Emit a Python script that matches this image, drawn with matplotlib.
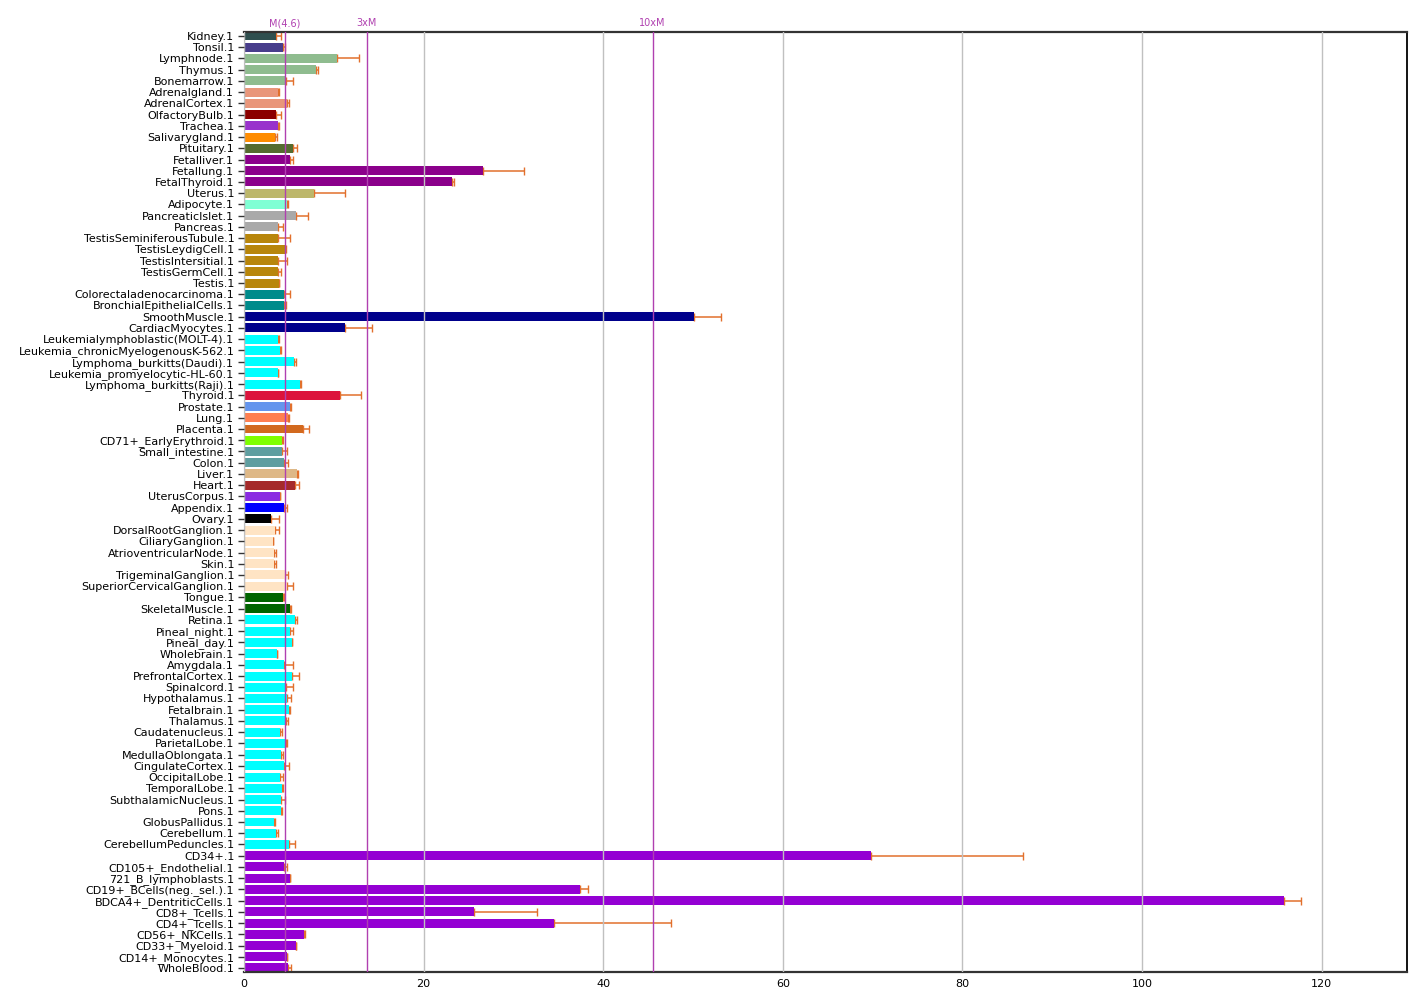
import matplotlib
matplotlib.use("Agg")
import matplotlib.pyplot as plt
import matplotlib.transforms as mtransforms
import numpy as np

tissues = [
    "Kidney.1", "Tonsil.1", "Lymphnode.1", "Thymus.1", "Bonemarrow.1",
    "Adrenalgland.1", "AdrenalCortex.1", "OlfactoryBulb.1", "Trachea.1",
    "Salivarygland.1", "Pituitary.1", "Fetalliver.1", "Fetallung.1",
    "FetalThyroid.1", "Uterus.1", "Adipocyte.1", "PancreaticIslet.1",
    "Pancreas.1", "TestisSeminiferousTubule.1", "TestisLeydigCell.1",
    "TestisIntersitial.1", "TestisGermCell.1", "Testis.1",
    "Colorectaladenocarcinoma.1", "BronchialEpithelialCells.1",
    "SmoothMuscle.1", "CardiacMyocytes.1", "Leukemialymphoblastic(MOLT-4).1",
    "Leukemia_chronicMyelogenousK-562.1", "Lymphoma_burkitts(Daudi).1",
    "Leukemia_promyelocytic-HL-60.1", "Lymphoma_burkitts(Raji).1",
    "Thyroid.1", "Prostate.1", "Lung.1", "Placenta.1", "CD71+_EarlyErythroid.1",
    "Small_intestine.1", "Colon.1", "Liver.1", "Heart.1", "UterusCorpus.1",
    "Appendix.1", "Ovary.1", "DorsalRootGanglion.1", "CiliaryGanglion.1",
    "AtrioventricularNode.1", "Skin.1", "TrigeminalGanglion.1",
    "SuperiorCervicalGanglion.1", "Tongue.1", "SkeletalMuscle.1", "Retina.1",
    "Pineal_night.1", "Pineal_day.1", "Wholebrain.1", "Amygdala.1",
    "PrefrontalCortex.1", "Spinalcord.1", "Hypothalamus.1", "Fetalbrain.1",
    "Thalamus.1", "Caudatenucleus.1", "ParietalLobe.1", "MedullaOblongata.1",
    "CingulateCortex.1", "OccipitalLobe.1", "TemporalLobe.1",
    "SubthalamicNucleus.1", "Pons.1", "GlobusPallidus.1", "Cerebellum.1",
    "CerebellumPeduncles.1", "CD34+.1", "CD105+_Endothelial.1",
    "721_B_lymphoblasts.1", "CD19+_BCells(neg._sel.).1",
    "BDCA4+_DentriticCells.1", "CD8+_Tcells.1", "CD4+_Tcells.1",
    "CD56+_NKCells.1", "CD33+_Myeloid.1", "CD14+_Monocytes.1", "WholeBlood.1",
]

values = [
    3.56, 4.34, 10.4, 8.0, 4.68,
    3.82, 4.75, 3.56, 3.79,
    3.49, 5.42, 5.09, 26.6,
    23.2, 7.82, 4.78, 5.81,
    3.75, 3.84, 4.52,
    3.84, 3.84, 3.88,
    4.48, 4.48,
    50.1, 11.3, 3.75,
    3.97, 5.57,
    3.79, 6.27,
    10.69, 5.12, 4.87, 6.6, 4.2,
    4.27, 4.45, 5.9, 5.68, 4.0,
    4.42, 3.0, 3.49, 3.19,
    3.34, 3.34, 4.57,
    4.82, 4.34, 5.09, 5.68,
    5.12, 5.35, 3.67, 4.45,
    5.35, 4.68, 4.82, 5.01,
    4.64, 4.05, 4.71, 4.16,
    4.45, 4.05, 4.2,
    4.16, 4.16, 3.34, 3.6,
    4.97, 69.8, 4.5,
    5.1, 37.4,
    115.8, 25.6, 34.5,
    6.71, 5.77, 4.76, 4.9,
]

errors = [
    0.56, 0.2, 2.4, 0.25, 0.78,
    0.05, 0.26, 0.52, 0.15,
    0.15, 0.48, 0.33, 4.6,
    0.2, 3.4, 0.17, 1.28,
    0.64, 1.24, 0.13,
    0.9, 0.3, 0.05,
    0.68, 0.2,
    3.0, 3.0, 0.15,
    0.15, 0.22,
    0.05, 0.05,
    2.34, 0.08, 0.18, 0.67, 0.1,
    0.55, 0.48, 0.07, 0.48, 0.05,
    0.4, 0.93, 0.44, 0.07,
    0.25, 0.25, 0.33,
    0.67, 0.13, 0.18, 0.22,
    0.37, 0.05, 0.05, 1.04,
    0.81, 0.81, 0.41, 0.15,
    0.26, 0.22, 0.07, 0.22,
    0.56, 0.33, 0.1,
    0.44, 0.05, 0.15, 0.22,
    0.67, 16.9, 0.25,
    0.05, 0.85,
    1.87, 7.05, 13.0,
    0.05, 0.05, 0.05, 0.33,
]

colors = (
    ["darkslategray", "darkslateblue"] + ["darkseagreen"] * 3
    + ["darksalmon"] * 2 + ["darkred", "darkorchid", "darkorange", "darkolivegreen"]
    + ["darkmagenta"] * 3 + ["darkkhaki", "aquamarine"] + ["darkgray"] * 2
    + ["darkgoldenrod"] * 5 + ["darkcyan"] * 2 + ["darkblue"] * 2
    + ["cyan"] * 5 + ["crimson", "cornflowerblue", "coral", "chocolate", "chartreuse"]
    + ["cadetblue"] * 2 + ["burlywood", "brown", "blueviolet", "blue", "black"]
    + ["bisque"] * 6 + ["darkgreen"] * 2 + ["cyan"] * 21 + ["darkviolet"] * 11
)

median = 4.55
ref_lines = [(median, "M(4.6)"), (3 * median, "3xM"), (10 * median, "10xM")]

fig = plt.figure(figsize=(14.26, 10.08), dpi=100)
ax = fig.add_axes([0.1711, 0.0357, 0.8156, 0.9326])

y = np.arange(len(tissues))
ax.barh(y, values, height=0.8, color=colors, zorder=2)
ax.errorbar(values, y, xerr=[np.zeros(len(errors)), errors], fmt="none",
            ecolor="#e2702c", elinewidth=1.1, capsize=3, capthick=1.0, zorder=1.5)

ax.set_yticks(y)
ax.set_yticklabels(tissues, fontsize=8)
ax.set_ylim(len(tissues) - 1 + 0.36, -0.36)
ax.set_xlim(0, 129.5)
ax.set_xticks(np.arange(0, 121, 20))
ax.tick_params(axis="x", labelsize=8, length=0, pad=5)
ax.tick_params(axis="y", length=4, width=1, color="#333333", pad=3)
ax.xaxis.grid(True, color="#c0c0c0", linewidth=1, zorder=3)
ax.set_axisbelow(False)

trans = mtransforms.blended_transform_factory(ax.transData, ax.transAxes)
for xv, lbl in ref_lines:
    ax.axvline(xv, color="#b040b0", linewidth=1, zorder=4)
    ax.text(xv, 1.004, lbl, transform=trans, ha="center", va="bottom",
            fontsize=7, color="#b040b0")

ax.spines["top"].set_linewidth(1.6)
ax.spines["bottom"].set_linewidth(1.6)
ax.spines["top"].set_color("#333333")
ax.spines["bottom"].set_color("#333333")
ax.spines["left"].set_color("#999999")
ax.spines["right"].set_linewidth(1.3)

fig.savefig("out.png", dpi=100)
